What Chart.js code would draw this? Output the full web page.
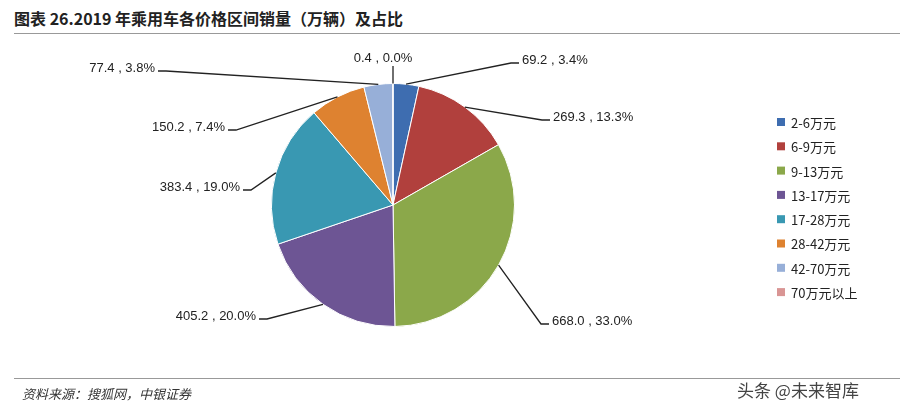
<!DOCTYPE html>
<html><head><meta charset="utf-8">
<script src="https://cdn.jsdelivr.net/npm/chart.js@4/dist/chart.umd.min.js"></script>
<style>body{margin:0;background:#fff;width:910px;height:417px;overflow:hidden;font-family:"Noto Sans CJK SC",sans-serif}
#t{position:absolute;left:14px;top:6px;font-size:16px;font-weight:bold;color:#222}
#tl{position:absolute;left:14px;top:33px;width:886px;border-top:1px solid #999}
#fl{position:absolute;left:14px;top:378px;width:886px;border-top:1px solid #999}
#f{position:absolute;left:22px;top:384px;font-size:13px;font-style:italic;color:#333}
#w{position:absolute;left:737px;top:377px;font-size:17px;color:#444}
canvas{position:absolute;left:0;top:0}</style></head><body>
<div id="t">图表 26.2019 年乘用车各价格区间销量（万辆）及占比</div><div id="tl"></div>
<canvas id="c" width="910" height="417"></canvas>
<div id="fl"></div><div id="f">资料来源：搜狐网，中银证券</div><div id="w">头条 @未来智库</div>
<script>
const categories=["2-6万元","6-9万元","9-13万元","13-17万元","17-28万元","28-42万元","42-70万元","70万元以上"];
const sales=[69.2,269.3,668.0,405.2,383.4,150.2,77.4,0.4];
const shares=["3.4%","13.3%","33.0%","20.0%","19.0%","7.4%","3.8%","0.0%"];
const colors=["#3E6DB0","#B1403D","#8BA84A","#6D5594","#3998B2","#DE8230","#97AFD8","#D99594"];
// [textX, textY, align, tailDirection]
const labelPos=[[522,60,"left",-1],[553,117,"left",-1],[552,321,"left",-1],[256,316,"right",1],[240,187,"right",1],[225,127,"right",1],[155,68,"right",1],[383,58,"center",0]];
const labelPlugin={id:"lbl",afterDatasetsDraw(ch){const ctx=ch.ctx;const meta=ch.getDatasetMeta(0);
ctx.save();ctx.font="13px 'Liberation Sans',Arial";ctx.fillStyle="#222";ctx.strokeStyle="#222";ctx.lineWidth=1.3;
meta.data.forEach((a,i)=>{const m=(a.startAngle+a.endAngle)/2;const r=a.outerRadius;
const p=labelPos[i];ctx.beginPath();
if(p[3]===0){ctx.moveTo(a.x,a.y-r);ctx.lineTo(a.x,p[1]+8);}
else{const sx=a.x+Math.cos(m)*r,sy=a.y+Math.sin(m)*r;const tx=p[0]-p[3]*(-3),ex=p[0]+p[3]*11;
const t0=p[0]+p[3]*3;ctx.moveTo(sx,sy);ctx.lineTo(ex,p[1]+3);ctx.lineTo(t0,p[1]+3);}
ctx.stroke();
ctx.textAlign=p[2];ctx.textBaseline="middle";ctx.fillText(sales[i].toFixed(1)+" , "+shares[i],p[0],p[1]);});
ctx.textAlign="left";ctx.font="13px 'Noto Sans CJK SC'";
categories.forEach((c,i)=>{const y=122+i*24.3;ctx.fillStyle=colors[i];ctx.fillRect(777,y-4,8,8);ctx.fillStyle="#222";ctx.fillText(c,791,y+1);});
ctx.restore();}};
new Chart(document.getElementById("c"),{type:"pie",data:{labels:categories,datasets:[{data:sales,backgroundColor:colors,borderColor:"#fff",borderWidth:1}]},
options:{responsive:false,animation:false,layout:{padding:{left:271,right:395,top:83,bottom:90}},plugins:{legend:{display:false},tooltip:{enabled:false}}},plugins:[labelPlugin]});
</script></body></html>
